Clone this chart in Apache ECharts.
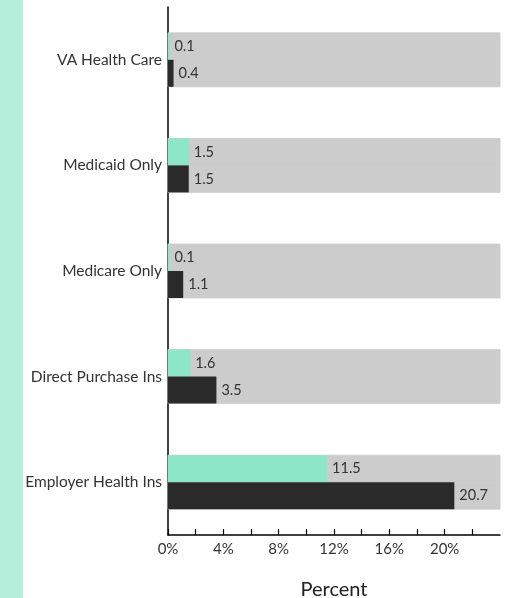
<!DOCTYPE html>
<html>
<head>
<meta charset="utf-8">
<script src="https://cdn.jsdelivr.net/npm/echarts@6/dist/echarts.min.js"></script>
<style>
  html, body { margin: 0; padding: 0; background: #fff; }
  #chart { width: 506px; height: 598px; }
</style>
</head>
<body>
<div id="chart"></div>
<script>
// bottom to top
const categories = ["Employer Health Ins", "Direct Purchase Ins", "Medicare Only", "Medicaid Only", "VA Health Care"]
const mintValues = [11.5, 1.6, 0.1, 1.5, 0.1]
const darkValues = [20.7, 3.5, 1.1, 1.5, 0.4]
const tickValues = [0, 2, 4, 6, 8, 10, 12, 14, 16, 18, 20, 22]
const labelValues = [0, 4, 8, 12, 16, 20]

const chart = echarts.init(document.getElementById("chart"))

const barLabel = {
  show: true,
  position: "right",
  distance: 5,
  color: "#333",
  fontFamily: "Lato",
  fontSize: 14.5,
}

// same-colour border hides the hairline seam between the two backgrounds
const bgStyle = { color: "#cccccc", borderColor: "#cccccc", borderWidth: 0.8 }

const option = {
  animation: false,
  textStyle: { fontFamily: "Lato" },
  graphic: [
    {
      type: "rect",
      left: 0,
      top: 0,
      shape: { width: 23, height: 598 },
      style: { fill: "#b5efdc" },
      silent: true,
    },
  ],
  grid: {
    left: 168,
    right: 6,
    top: 7,
    bottom: 63,
    outerBoundsMode: "none",
    containLabel: false,
  },
  xAxis: {
    type: "value",
    min: 0,
    max: 24,
    interval: 2,
    name: "Percent",
    nameLocation: "middle",
    nameGap: 45,
    nameTextStyle: { fontSize: 20, color: "#222", fontFamily: "Lato" },
    splitLine: { show: false },
    axisLine: { show: true, lineStyle: { color: "#000", width: 1.5 } },
    axisTick: {
      show: true,
      inside: true,
      length: 6,
      customValues: tickValues,
      lineStyle: { color: "#000", width: 1.2 },
    },
    axisLabel: {
      customValues: labelValues,
      formatter: (v) => v + "%",
      color: "#333",
      fontSize: 15,
      margin: 7,
    },
  },
  yAxis: {
    type: "category",
    data: categories,
    axisLine: { show: true, lineStyle: { color: "#000", width: 1.5 } },
    axisTick: { show: false },
    axisLabel: { color: "#333", fontSize: 15.5, margin: 6 },
  },
  series: [
    {
      name: "Mint",
      type: "bar",
      data: mintValues,
      barWidth: 27,
      barGap: "0%",
      itemStyle: { color: "#8de6c8" },
      showBackground: true,
      backgroundStyle: bgStyle,
      label: barLabel,
    },
    {
      name: "Dark",
      type: "bar",
      data: darkValues,
      barWidth: 27,
      barGap: "0%",
      itemStyle: { color: "#2a2a2a" },
      showBackground: true,
      backgroundStyle: bgStyle,
      label: barLabel,
    },
  ],
}

chart.setOption(option)
</script>
</body>
</html>
